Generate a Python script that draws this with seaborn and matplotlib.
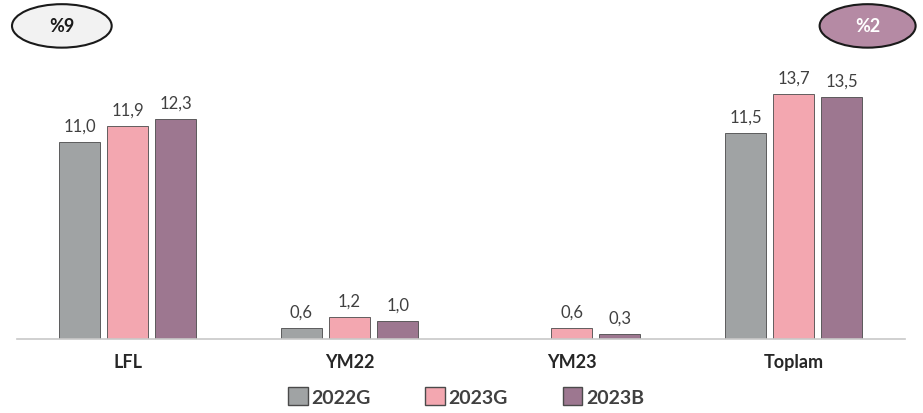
import matplotlib
matplotlib.use("Agg")
import matplotlib.pyplot as plt
from matplotlib.patches import Ellipse
import numpy as np
import pandas as pd
import seaborn as sns

categories = ["LFL", "YM22", "YM23", "Toplam"]
series = ["2022G", "2023G", "2023B"]
v_2022g = [11.0, 0.6, np.nan, 11.5]
v_2023g = [11.9, 1.2, 0.6, 13.7]
v_2023b = [12.3, 1.0, 0.3, 13.5]
colors = ["#a0a3a4", "#f3a7b0", "#9d7790"]

rows = []
for s, vals in zip(series, [v_2022g, v_2023g, v_2023b]):
    for c, v in zip(categories, vals):
        rows.append({"cat": c, "series": s, "value": v})
df = pd.DataFrame(rows)

sns.set_style("white")
plt.rcParams["font.family"] = ["Lato", "DejaVu Sans"]

fig = plt.figure(figsize=(9.23, 4.14), dpi=100)
ax = fig.add_axes([0.018, 0.179, 0.962, 0.821])

sns.barplot(data=df, x="cat", y="value", hue="series", palette=colors,
            saturation=1, width=0.65, gap=0.15, ax=ax, legend=False,
            edgecolor="#4a4a4a", linewidth=0.6)

for cont in ax.containers:
    labels = []
    for b in cont:
        h = b.get_height()
        labels.append("" if np.isnan(h) else f"{h:.1f}".replace(".", ","))
    ax.bar_label(cont, labels=labels, padding=6, fontsize=12, color="#404040")

ax.set_ylim(0, 19)
ax.set_xlim(-0.5, 3.5)
ax.set_yticks([])
ax.set_xlabel("")
ax.set_ylabel("")
for sp in ["top", "right", "left"]:
    ax.spines[sp].set_visible(False)
ax.spines["bottom"].set_color("#c8c8c8")
ax.spines["bottom"].set_linewidth(1.2)
ax.tick_params(axis="x", length=0, pad=10)
for t in ax.get_xticklabels():
    t.set_fontweight("bold")
    t.set_fontsize(13)
    t.set_color("#262626")

# legend
handles = [plt.Rectangle((0, 0), 1, 1, facecolor=c, edgecolor="#4a4a4a") for c in colors]
fig.legend(handles, series, loc="center", bbox_to_anchor=(0.505, 0.04), ncol=3,
           frameon=False, handlelength=1.0, handleheight=1.0, handletextpad=0.2,
           columnspacing=2.8, prop={"weight": "bold", "size": 14},
           labelcolor="#404040")

# badges
fig.patches.append(Ellipse((0.067, 0.935), 0.108, 0.105, transform=fig.transFigure,
                           facecolor="#f2f2f2", edgecolor="#1a1a1a", linewidth=1.5))
fig.text(0.067, 0.935, "%9", ha="center", va="center", fontsize=13,
         fontweight="bold", color="#1a1a1a")
fig.patches.append(Ellipse((0.94, 0.935), 0.104, 0.105, transform=fig.transFigure,
                           facecolor="#b58aa4", edgecolor="#1a1a1a", linewidth=1.5))
fig.text(0.94, 0.935, "%2", ha="center", va="center", fontsize=13,
         fontweight="bold", color="white")

fig.savefig("out.png", dpi=100)
